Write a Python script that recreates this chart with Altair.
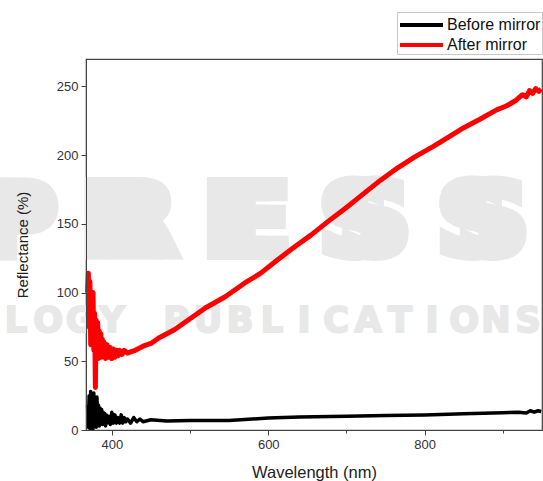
import altair as alt
import pandas as pd

# Reflectance spectrum before applying the mirror coating
before_wl = [369, 370, 371, 372, 373, 374, 375, 376, 377, 378, 379, 380, 381, 382, 383, 384,
             385, 386, 387, 388, 389, 390, 391, 392, 393, 394, 396, 398, 400, 402, 404, 406,
             408, 410, 412, 414, 416, 418, 420, 424, 428, 432, 436, 440, 450, 470, 500, 550,
             600, 640, 700, 750, 800, 850, 900, 920, 930, 935, 940, 945, 949]
before_refl = [18, 2, 25, 1, 28, 3, 22, 1, 27, 4, 20, 2, 24, 5, 18, 3,
               16, 6, 15, 4, 13, 5, 12, 3, 11, 5, 10, 4, 13, 5, 11, 5,
               9, 5, 11, 5, 9, 6, 8, 5, 9, 6, 8, 6, 7.5, 6.5, 7, 7,
               8.7, 9.5, 10, 10.5, 11, 11.8, 12.5, 13, 12.4, 14, 13, 14, 13.5]

# Reflectance spectrum after applying the mirror coating
after_wl = [369, 370, 371, 372, 373, 374, 375, 376, 377, 378, 379, 380, 381, 382, 383, 384,
            385, 386, 387, 388, 389, 390, 392, 394, 396, 398, 400, 402, 404, 406, 408, 410,
            413, 416, 420, 425, 430, 440, 450, 460, 480, 500, 520, 545, 570, 590, 610, 633,
            655, 677, 700, 722, 744, 766, 788, 810, 830, 850, 870, 892, 905, 917, 925, 930,
            934, 938, 942, 946, 949]
after_refl = [100, 114, 75, 108, 62, 95, 70, 100, 58, 85, 31, 80, 55, 78, 52, 72,
              57, 70, 53, 66, 55, 64, 52, 62, 53, 60, 52, 59, 53, 58, 54, 58,
              55, 58, 56, 57, 58, 61, 63, 67, 73, 81, 89, 97, 107, 114, 123, 133,
              142, 152, 162, 172, 182, 191, 199, 206, 213, 220, 226, 233, 236, 240, 244, 242.5,
              247, 245, 248.5, 246.5, 248]

series_names = ["Before mirror", "After mirror"]
series_colors = ["#000000", "#ff0000"]

df_before = pd.DataFrame({"Wavelength": before_wl, "Reflectance": before_refl,
                          "Series": series_names[0]})
df_after = pd.DataFrame({"Wavelength": after_wl, "Reflectance": after_refl,
                         "Series": series_names[1]})

PLOT_W, PLOT_H = 456, 371
FONT = "Liberation Sans"

x_scale = alt.Scale(domain=[367, 950], nice=False, zero=False)
y_scale = alt.Scale(domain=[0, 270], nice=False)
color_scale = alt.Scale(domain=series_names, range=series_colors)

x_axis = alt.Axis(
    title="Wavelength (nm)",
    values=[400, 500, 600, 700, 800, 900],
    labelExpr="datum.value % 200 === 0 ? datum.label : ''",
    tickSize={"condition": {"test": "datum.value % 200 === 0", "value": 5}, "value": 3},
    grid=False, labelFont=FONT, labelFontSize=13, labelColor="#333",
    labelPadding=3, domainColor="#444", tickColor="#444", zindex=1,
    titleFont=FONT, titleFontSize=16.5, titleFontWeight="normal", titleColor="#222",
    titleX=PLOT_W / 2, titleY=42, titleAlign="center", titleBaseline="middle",
)
y_axis = alt.Axis(
    title="Reflectance (%)",
    values=[0, 25, 50, 75, 100, 125, 150, 175, 200, 225, 250],
    labelExpr="datum.value % 50 === 0 ? datum.label : ''",
    tickSize={"condition": {"test": "datum.value % 50 === 0", "value": 5}, "value": 3},
    grid=False, labelFont=FONT, labelFontSize=13, labelColor="#333",
    labelPadding=3, domainColor="#444", tickColor="#444", zindex=1,
    titleFont=FONT, titleFontSize=15, titleFontWeight="normal", titleColor="#222",
    titleAngle=270, titleX=-64, titleY=PLOT_H / 2, titleAlign="center", titleBaseline="middle",
)

legend = alt.Legend(
    title=None, orient="none", legendX=311, legendY=-47,
    symbolType="M-1,0H3.3", symbolSize=400, symbolStrokeWidth=4,
    labelFont=FONT, labelFontSize=16, labelColor="#111", labelOffset=25,
    padding=1, rowPadding=0, strokeColor="#c8c8c8", fillColor="white",
    labelLimit=300, zindex=2,
)

WM_COLOR = "#e8e8e8"


# Faint publisher watermark behind the plot: glyphs are outlined (and, for the
# big word, drawn twice with a horizontal shift) to get wide, heavy letterforms.
def watermark(letters, x0, pitch, baseline_y, size, outline, shifts):
    rows = [{"ch": ch, "i": i, "s": s}
            for i, ch in enumerate(letters) if ch != " " for s in shifts]
    frame = pd.DataFrame(rows)
    return alt.Chart(frame).transform_calculate(
        px=f"{x0} + datum.i * {pitch} + datum.s"
    ).mark_text(
        font="DejaVu Sans", fontWeight="bold", fontSize=size,
        color=WM_COLOR, stroke=WM_COLOR, strokeWidth=outline, strokeJoin="miter",
        align="center", baseline="alphabetic",
    ).encode(
        x=alt.X("px:Q", scale=None),
        y=alt.value(baseline_y),
        text="ch:N",
    )


wm_big = watermark(list("PRESS"), -75, 118, 196, 100, 10, [-10, 10])
wm_small = watermark(list("LOGY PUBLICATIONS"), -70, 32, 273, 35, 2, [0])

before_line = alt.Chart(df_before).mark_line(strokeWidth=3.5, strokeJoin="round").encode(
    x=alt.X("Wavelength:Q", scale=x_scale, axis=x_axis),
    y=alt.Y("Reflectance:Q", scale=y_scale, axis=y_axis),
    color=alt.Color("Series:N", scale=color_scale, legend=legend),
)
after_line = alt.Chart(df_after).mark_line(strokeWidth=5, strokeJoin="round").encode(
    x=alt.X("Wavelength:Q", scale=x_scale),
    y=alt.Y("Reflectance:Q", scale=y_scale),
    color=alt.Color("Series:N", scale=color_scale, legend=legend),
)

chart = alt.layer(wm_big, wm_small, before_line, after_line).properties(
    width=PLOT_W, height=PLOT_H,
    padding={"left": 86, "top": 59, "right": 1, "bottom": 51},
    autosize=alt.AutoSizeParams(type="none"),
    background="white",
).configure_view(stroke="#444", strokeWidth=1.2)

chart.save("out.html", embed_options={"renderer": "svg", "actions": False})
